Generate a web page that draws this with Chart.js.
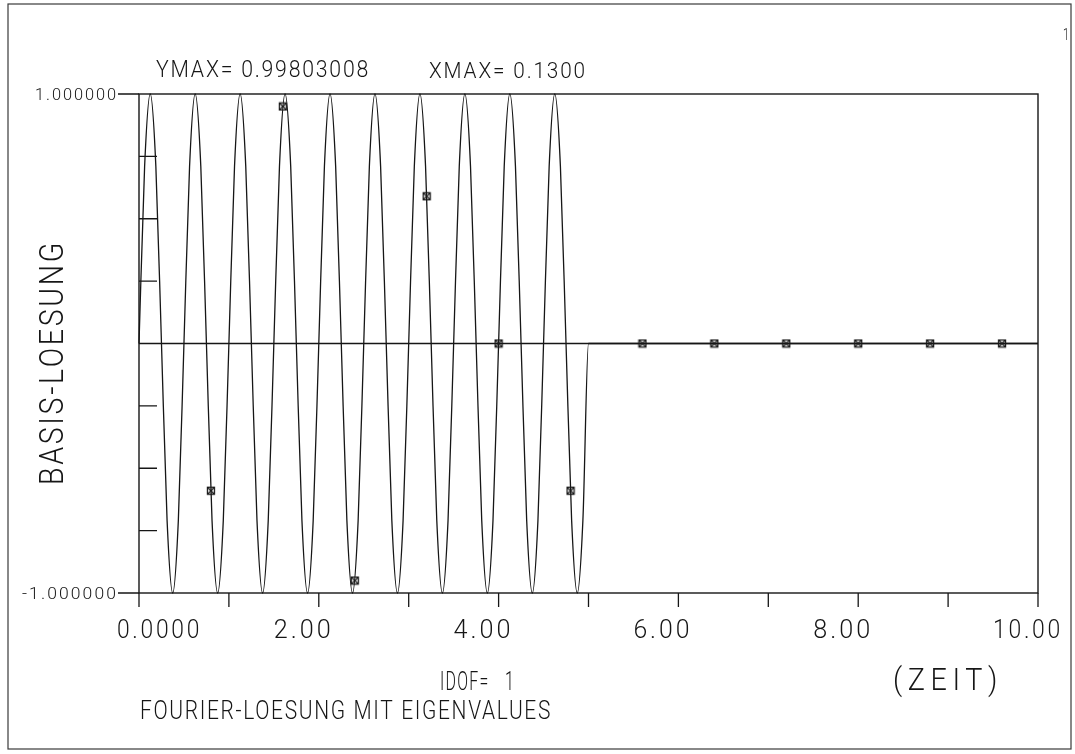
<!DOCTYPE html>
<html><head><meta charset="utf-8">
<script src="https://cdn.jsdelivr.net/npm/chart.js@4/dist/chart.umd.min.js"></script>
<style>html,body{margin:0;padding:0;background:#fff;}canvas{display:block;}</style>
</head><body>
<canvas id="c" width="1075" height="754"></canvas>
<script>
// ---- data ----
const curveT = [
  0,0.0625,0.125,0.1875,0.25,0.3125,0.375,0.4375,
  0.5,0.5625,0.625,0.6875,0.75,0.8125,0.875,0.9375,
  1,1.0625,1.125,1.1875,1.25,1.3125,1.375,1.4375,
  1.5,1.5625,1.625,1.6875,1.75,1.8125,1.875,1.9375,
  2,2.0625,2.125,2.1875,2.25,2.3125,2.375,2.4375,
  2.5,2.5625,2.625,2.6875,2.75,2.8125,2.875,2.9375,
  3,3.0625,3.125,3.1875,3.25,3.3125,3.375,3.4375,
  3.5,3.5625,3.625,3.6875,3.75,3.8125,3.875,3.9375,
  4,4.0625,4.125,4.1875,4.25,4.3125,4.375,4.4375,
  4.5,4.5625,4.625,4.6875,4.75,4.8125,4.875,4.9375,
  5,10
];
const curveY = [
  0,0.71,1,0.71,0,-0.71,-1,-0.71,
  0,0.71,1,0.71,0,-0.71,-1,-0.71,
  0,0.71,1,0.71,0,-0.71,-1,-0.71,
  0,0.71,1,0.71,0,-0.71,-1,-0.71,
  0,0.71,1,0.71,0,-0.71,-1,-0.71,
  0,0.71,1,0.71,0,-0.71,-1,-0.71,
  0,0.71,1,0.71,0,-0.71,-1,-0.71,
  0,0.71,1,0.71,0,-0.71,-1,-0.71,
  0,0.71,1,0.71,0,-0.71,-1,-0.71,
  0,0.71,1,0.71,0,-0.71,-1,-0.71,
  0,0
];
const sampleT = [0.8,1.6,2.4,3.2,4.0,4.8,5.6,6.4,7.2,8.0,8.8,9.6];
const sampleY = [-0.59,0.95,-0.95,0.59,0.0,-0.59,0.0,0.0,0.0,0.0,0.0,0.0];

const xTickValues = [0,2,4,6,8,10];
const xTickLabels = ["0.0000","2.00","4.00","6.00","8.00","10.00"];
const xMinorTicks = [0,1,2,3,4,5,6,7,8,9,10];
const yTickValues = [1,-1];
const yTickLabels = ["1.000000","-1.000000"];
const yMinorTicks = [0.75,0.5,0.25,-0.25,-0.5,-0.75];

const yTitle = "BASIS-LOESUNG";
const xTitle = "(ZEIT)";
const ymaxText = "YMAX= 0.99803008";
const xmaxText = "XMAX= 0.1300";
const idofText = "IDOF=   1";
const footText = "FOURIER-LOESUNG MIT EIGENVALUES";
const pageText = "1";

// ---- rendering ----
const INK = '#161616';
const FONT = 'Roboto, "DejaVu Sans", sans-serif';

function drawFit(ctx, text, x, baseline, cap, width, rot, ls) {
  const size = cap / 0.711;
  ctx.save();
  ctx.font = '300 ' + size.toFixed(1) + 'px ' + FONT;
  ctx.letterSpacing = (ls || 0) + 'px';
  ctx.textAlign = 'left';
  ctx.textBaseline = 'alphabetic';
  ctx.fillStyle = INK;
  const w = ctx.measureText(text).width;
  ctx.translate(x, baseline);
  if (rot) ctx.rotate(rot);
  ctx.scale(width / w, 1);
  ctx.fillText(text, 0, 0);
  ctx.restore();
}

function makeMarker() {
  const m = document.createElement('canvas');
  m.width = 10; m.height = 10;
  const g = m.getContext('2d');
  g.strokeStyle = '#1a1a1a';
  g.lineWidth = 1.3;
  g.strokeRect(1.5, 1.5, 7, 7);
  g.beginPath();
  g.moveTo(1.5, 1.5); g.lineTo(8.5, 8.5);
  g.moveTo(8.5, 1.5); g.lineTo(1.5, 8.5);
  g.stroke();
  return m;
}

const framePlugin = {
  id: 'frame',
  beforeDatasetsDraw(chart) {
    const ctx = chart.ctx;
    const xs = chart.scales.x, ys = chart.scales.y;
    const a = chart.chartArea;
    ctx.save();
    ctx.strokeStyle = INK;
    ctx.lineWidth = 1.3;
    // outer page border
    ctx.strokeStyle = '#3a3a3a';
    ctx.lineWidth = 1.2;
    ctx.strokeRect(8, 4, 1063, 745);
    ctx.strokeStyle = INK;
    ctx.lineWidth = 1.4;
    // plot frame
    ctx.strokeRect(a.left, a.top, a.right - a.left, a.bottom - a.top);
    // zero line
    const y0 = ys.getPixelForValue(0);
    ctx.beginPath();
    ctx.moveTo(a.left, y0); ctx.lineTo(a.right, y0);
    ctx.stroke();
    ctx.lineWidth = 1.3;
    // y minor ticks (inside)
    ctx.beginPath();
    yMinorTicks.forEach(v => {
      const py = ys.getPixelForValue(v);
      ctx.moveTo(a.left, py); ctx.lineTo(a.left + 18, py);
    });
    // y major ticks (outside)
    yTickValues.forEach(v => {
      const py = ys.getPixelForValue(v);
      ctx.moveTo(a.left - 21, py); ctx.lineTo(a.left, py);
    });
    // x ticks (outside, downward)
    xMinorTicks.forEach(v => {
      const px = xs.getPixelForValue(v);
      ctx.moveTo(px, a.bottom); ctx.lineTo(px, a.bottom + 14);
    });
    ctx.stroke();
    ctx.restore();
  },
  afterDraw(chart) {
    const ctx = chart.ctx;
    const xs = chart.scales.x, ys = chart.scales.y;
    const a = chart.chartArea;
    // y tick labels, right-aligned before the outer tick
    const yW = [83, 96];
    yTickValues.forEach((v, i) => {
      const py = ys.getPixelForValue(v);
      const w = yW[i];
      drawFit(ctx, yTickLabels[i], a.left - 21 - w, py + 6, 12, w, 0, 2);
    });
    // x tick labels
    const xW = [85, 60, 60, 59, 60, 70];
    xTickValues.forEach((v, i) => {
      const px = xs.getPixelForValue(v);
      const lx = i === 0 ? px - 22 : px - 45;
      drawFit(ctx, xTickLabels[i], lx, a.bottom + 45, 18, xW[i], 0, 3);
    });
    // titles and annotations
    drawFit(ctx, yTitle, 63, 485, 23, 245, -Math.PI / 2, 3);
    drawFit(ctx, xTitle, 893, 690, 22, 110, 0, 6);
    drawFit(ctx, ymaxText, 156, 77, 17, 214, 0, 2);
    drawFit(ctx, xmaxText, 429, 78, 16, 158, 0, 2);
    drawFit(ctx, idofText, 440, 690, 18, 75, 0, 2);
    drawFit(ctx, footText, 140, 719, 18, 412, 0, 2);
    drawFit(ctx, pageText, 1063, 40, 12, 6, 0, 0);
  }
};

const marker = makeMarker();

new Chart(document.getElementById('c'), {
  type: 'scatter',
  data: {
    datasets: [
      {
        label: 'curve',
        data: curveT.map((t, i) => ({ x: t, y: curveY[i] })),
        showLine: true,
        borderColor: INK,
        borderWidth: 1.3,
        pointRadius: 0,
        cubicInterpolationMode: 'monotone',
        clip: 4,
        order: 2
      },
      {
        label: 'samples',
        data: sampleT.map((t, i) => ({ x: t, y: sampleY[i] })),
        showLine: false,
        pointStyle: marker,
        pointRadius: 5,
        clip: 8,
        order: 1
      }
    ]
  },
  options: {
    responsive: false,
    animation: false,
    devicePixelRatio: 1,
    layout: { padding: { left: 139, top: 94, right: 37, bottom: 161 } },
    scales: {
      x: { type: 'linear', min: 0, max: 10, display: false },
      y: { type: 'linear', min: -1, max: 1, display: false }
    },
    plugins: { legend: { display: false }, tooltip: { enabled: false } }
  },
  plugins: [framePlugin]
});
</script>
</body></html>
